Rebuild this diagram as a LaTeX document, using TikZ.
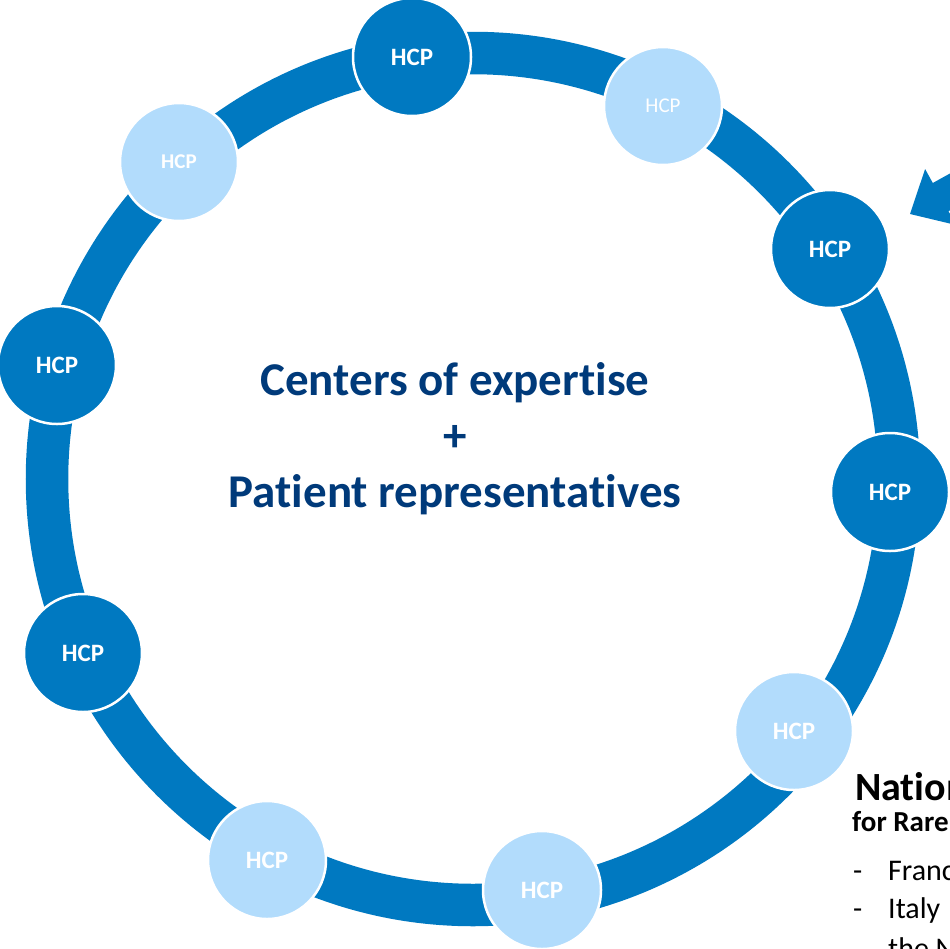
\documentclass[tikz,border=0pt]{standalone}
\usepackage{fontspec}
\setmainfont{Carlito}[Ligatures={NoCommon}]
\definecolor{ringblue}{RGB}{0,121,193}
\definecolor{lightblue}{RGB}{178,220,252}
\definecolor{navy}{RGB}{0,58,122}
\begin{document}
\begin{tikzpicture}[x=1pt,y=-1pt,
  hcpdark/.style={circle, minimum size=118pt, inner sep=0pt, fill=ringblue, draw=white, line width=2.5pt, text=white, font=\fontsize{25}{25}\selectfont\bfseries},
  hcplight/.style={hcpdark, fill=lightblue},
  rtext/.style={anchor=base west, inner sep=0pt, text=black}]
\useasboundingbox (0,0) rectangle (950,948);
\begin{scope}
\clip (0,0) rectangle (950,948);
% ring
\draw[white, line width=46pt] (473,479) circle[radius=426pt];
\draw[ringblue, line width=42.5pt] (473,479) circle[radius=426pt];
% nodes
\node[hcpdark] (n1) at (412,57) {HCP};
\node[hcplight, font=\fontsize{21}{21}\selectfont] (n2) at (663,106) {HCP};
\node[hcpdark] (n3) at (830,249) {HCP};
\node[hcpdark] (n4) at (890,492) {HCP};
\node[hcplight] (n5) at (794,731) {HCP};
\node[hcplight] (n6) at (542,890) {HCP};
\node[hcplight] (n7) at (267,860) {HCP};
\node[hcpdark] (n8) at (83,653) {HCP};
\node[hcpdark] (n9) at (57,365) {HCP};
\node[hcplight, font=\fontsize{21}{21}\selectfont\bfseries] (n10) at (179,162) {HCP};
% center text
\node[text=navy, font=\fontsize{47}{56}\selectfont\bfseries, align=center, inner sep=0pt] (center) at (455,439) {Centers of expertise\\+\\Patient representatives};
% arrow
\fill[ringblue] (910,214) -- (925.1,169) -- (932.8,183) -- ++(175,-97) -- ++(31,56) -- (948.4,211) -- (956,225) -- cycle;
% right text (cut by page edge)
\node[rtext, font=\fontsize{40}{40}\selectfont\bfseries] (title) at (855,800) {National};
\node[rtext, font=\fontsize{29}{29}\selectfont\bfseries] (sub) at (852,831) {for Rare Diseases};
\node[rtext, font=\fontsize{30}{30}\selectfont] (d1) at (853,880) {-};
\node[rtext, font=\fontsize{30}{30}\selectfont] (l1) at (888,880) {France};
\node[rtext, font=\fontsize{30}{30}\selectfont] (d2) at (853,918) {-};
\node[rtext, font=\fontsize{30}{30}\selectfont] (l2) at (888,918) {Italy};
\node[rtext, font=\fontsize{30}{30}\selectfont] (l3) at (888,958) {the Netherlands};
\end{scope}
\end{tikzpicture}
\end{document}
